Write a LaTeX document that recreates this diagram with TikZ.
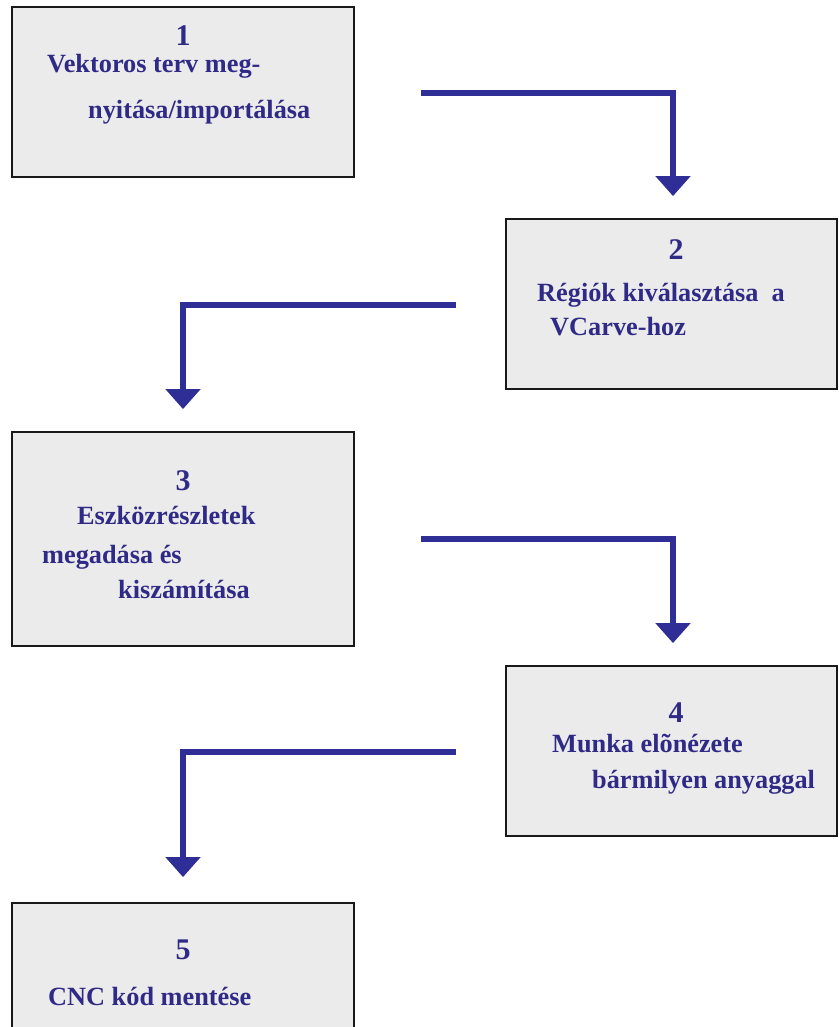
\documentclass[tikz,border=0pt]{standalone}
\usepackage{fontspec}
\setmainfont{Liberation Serif}
\usetikzlibrary{arrows.meta}
\definecolor{arrowblue}{RGB}{46,46,150}
\definecolor{textblue}{RGB}{48,42,135}
\definecolor{boxgray}{RGB}{235,235,235}
\definecolor{boxline}{RGB}{25,25,25}
\begin{document}
\begin{tikzpicture}[x=1pt,y=-1pt,
  stepbox/.style={draw=boxline, line width=1.8pt, fill=boxgray, rectangle, inner sep=0pt},
  lbl/.style={text=textblue, inner sep=0pt, font=\fontsize{26.3}{30}\selectfont\bfseries},
  num/.style={text=textblue, inner sep=0pt, anchor=base, font=\fontsize{30}{34}\selectfont\bfseries},
  flow/.style={draw=arrowblue, line width=6.5pt, -{Triangle[width=34pt,length=20pt]}}
  ]
\useasboundingbox (0,0) rectangle (838,1027);
\clip (0,0) rectangle (838,1027);
\fill[white] (0,0) rectangle (838,1027);

% boxes
\node[stepbox, minimum width=342pt, minimum height=170pt] (b1) at (183,92) {};
\node[stepbox, minimum width=331pt, minimum height=170pt] (b2) at (671.5,304) {};
\node[stepbox, minimum width=342pt, minimum height=214pt] (b3) at (183,539) {};
\node[stepbox, minimum width=331pt, minimum height=170pt] (b4) at (671.5,751) {};
\node[stepbox, minimum width=342pt, minimum height=160pt] (b5) at (183,983) {};

% texts
\node[num] (n1) at (183,46) {1};
\node[lbl, anchor=base west] (t1a) at (47,73) {Vektoros terv meg-};
\node[lbl, anchor=base west] (t1b) at (88,119) {nyitása/importálása};

\node[num] (n2) at (676,259) {2};
\node[lbl, anchor=base west] (t2a) at (537,301) {Régiók kiválasztása\ \ a};
\node[lbl, anchor=base west] (t2b) at (550,335) {VCarve-hoz};

\node[num] (n3) at (183,490) {3};
\node[lbl, anchor=base west] (t3a) at (77,524) {Eszközrészletek};
\node[lbl, anchor=base west] (t3b) at (42,563) {megadása és};
\node[lbl, anchor=base west] (t3c) at (118,598) {kiszámítása};

\node[num] (n4) at (676,722) {4};
\node[lbl, anchor=base west] (t4a) at (552,752) {Munka elõnézete};
\node[lbl, anchor=base west] (t4b) at (592,788) {bármilyen anyaggal};

\node[num] (n5) at (183,959) {5};
\node[lbl, anchor=base west] (t5a) at (48,1005) {CNC kód mentése};

% connector start points
\coordinate (s1) at (421,93);
\coordinate (s2) at (456,305);
\coordinate (s3) at (421,539);
\coordinate (s4) at (456,752);

\draw[flow, shorten >=22pt] (s1) -| ([xshift=1.5pt]b2.north);
\draw[flow, shorten >=22pt] (s2) -| (b3.north);
\draw[flow, shorten >=22pt] (s3) -| ([xshift=1.5pt]b4.north);
\draw[flow, shorten >=25pt] (s4) -| (b5.north);
\end{tikzpicture}
\end{document}
